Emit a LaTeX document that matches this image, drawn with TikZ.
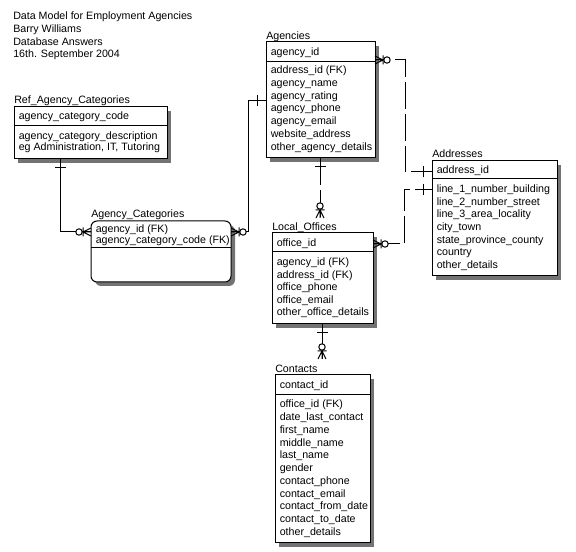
\documentclass[tikz,border=0pt]{standalone}
\usepackage{fontspec}
\setmainfont{Liberation Sans}
\usetikzlibrary{calc,shadows}
\begin{document}
\begin{tikzpicture}[x=0.75pt,y=-0.75pt,
  font=\fontsize{8}{9}\selectfont,
  ent/.style={draw=black, fill=white, line width=0.75pt, inner sep=0pt, outer sep=0pt,
    anchor=north west,
    general shadow={fill=black!55, shadow xshift=3pt, shadow yshift=-3pt}},
  lbl/.style={anchor=base west, inner sep=0pt},
  conn/.style={line width=0.75pt},
  dconn/.style={conn, dash pattern=on 20pt off 4pt},
  sym/.style={line width=0.75pt, solid},
  manyend/.pic={
    \draw[sym] (0,-4) -- (8,0) -- (0,4) (0,0) -- (8,0) (8,-4.5) -- (8,4.5);
    \draw[sym, fill=white] (12,0) circle[radius=2.4pt];
  },
  oneend/.pic={\draw[sym] (9,-5.5) -- (9,5.5);}
]
\useasboundingbox (0,0) rectangle (576,552);

% header
\node[lbl] (h1) at (13,19.5) {Data Model for Employment Agencies};
\node[lbl] (h2) at (13,32.5) {Barry Williams};
\node[lbl] (h3) at (13,45.5) {Database Answers};
\node[lbl] (h4) at (13,57.5) {16th. September 2004};

% Ref_Agency_Categories
\node[ent, minimum width=153*0.75pt, minimum height=52*0.75pt] (ref) at (14,107) {};
\node[lbl] (refT) at (14,103.5) {Ref\_Agency\_Categories};
\draw[conn] ($(ref.north west)+(0,19)$) -- ($(ref.north east)+(0,19)$);
\node[lbl] (ref0) at (18.5,119.5) {agency\_category\_code};
\node[lbl] (ref1) at (18.5,139.5) {agency\_category\_description};
\node[lbl] (ref2) at (18.5,151) {eg Administration, IT, Tutoring};

% Agency_Categories
\node[ent, rounded corners=4.5pt, minimum width=140*0.75pt, minimum height=61*0.75pt] (agcat) at (91,221) {};
\node[lbl] (agcatT) at (91,217.5) {Agency\_Categories};
\draw[conn] ($(agcat.north west)+(0,27)$) -- ($(agcat.north east)+(0,27)$);
\node[lbl] (agcat0) at (95.5,233) {agency\_id (FK)};
\node[lbl] (agcat1) at (95.5,244) {agency\_category\_code (FK)};

% Agencies
\node[ent, minimum width=109*0.75pt, minimum height=116*0.75pt] (agencies) at (266,42) {};
\node[lbl] (agenciesT) at (266,39.5) {Agencies};
\draw[conn] ($(agencies.north west)+(0,20)$) -- ($(agencies.north east)+(0,20)$);
\node[lbl] (agk) at (270.5,55.5) {agency\_id};
\foreach \t [count=\i from 0] in {address\_id (FK), agency\_name, agency\_rating, agency\_phone, agency\_email, website\_address, other\_agency\_details}
  \node[lbl] (ag\i) at (270.5,73.5+12.8*\i) {\t};

% Addresses
\node[ent, minimum width=125*0.75pt, minimum height=115*0.75pt] (addr) at (432,161) {};
\node[lbl] (addrT) at (432,157.5) {Addresses};
\draw[conn] ($(addr.north west)+(0,18)$) -- ($(addr.north east)+(0,18)$);
\node[lbl] (adk) at (436.5,173.5) {address\_id};
\foreach \t [count=\i from 0] in {line\_1\_number\_building, line\_2\_number\_street, line\_3\_area\_locality, city\_town, state\_province\_county, country, other\_details}
  \node[lbl] (ad\i) at (436.5,192.5+12.7*\i) {\t};

% Local_Offices
\node[ent, minimum width=101*0.75pt, minimum height=91*0.75pt] (lo) at (272,233) {};
\node[lbl] (loT) at (272,230.5) {Local\_Offices};
\draw[conn] ($(lo.north west)+(0,19)$) -- ($(lo.north east)+(0,19)$);
\node[lbl] (lok) at (276.5,246.5) {office\_id};
\foreach \t [count=\i from 0] in {agency\_id (FK), address\_id (FK), office\_phone, office\_email, other\_office\_details}
  \node[lbl] (lo\i) at (276.5,265.5+12.6*\i) {\t};

% Contacts
\node[ent, minimum width=95*0.75pt, minimum height=168*0.75pt] (contacts) at (275,375) {};
\node[lbl] (contactsT) at (275,373) {Contacts};
\draw[conn] ($(contacts.north west)+(0,20)$) -- ($(contacts.north east)+(0,20)$);
\node[lbl] (ctk) at (279.5,389) {contact\_id};
\foreach \t [count=\i from 0] in {office\_id (FK), date\_last\_contact, first\_name, middle\_name, last\_name, gender, contact\_phone, contact\_email, contact\_from\_date, contact\_to\_date, other\_details}
  \node[lbl] (ct\i) at (279.5,408+12.75*\i) {\t};

% Ref -> Agency_Categories
\draw[conn] ($(ref.south west)+(46,0)$) |- ($(agcat.north west)+(0,11)$);
\pic[rotate=-90] at ($(ref.south west)+(46,0)$) {oneend};
\pic[rotate=180] at ($(agcat.north west)+(0,11)$) {manyend};

% Agency_Categories -> Agencies
\draw[conn] ($(agcat.north east)+(0,11)$) -| ($(agencies.north west)+(-18,59)$) -- ($(agencies.north west)+(0,59)$);
\pic at ($(agcat.north east)+(0,11)$) {manyend};
\pic[rotate=180] at ($(agencies.north west)+(0,59)$) {oneend};

% Agencies -> Local_Offices
\draw[dconn] ($(agencies.south west)+(54,0)$) -- ($(lo.north west)+(48,-15)$);
\pic[rotate=-90] at ($(agencies.south west)+(54,0)$) {oneend};
\pic[rotate=90] at ($(lo.north west)+(48,-15)$) {manyend};

% Local_Offices -> Contacts
\draw[conn] ($(lo.south west)+(50,0)$) -- ($(contacts.north west)+(47,-16)$);
\pic[rotate=-90] at ($(lo.south west)+(50,0)$) {oneend};
\pic[rotate=90] at ($(contacts.north west)+(47,-16)$) {manyend};

% Agencies -> Addresses
\draw[dconn, dash phase=8.8pt] ($(agencies.north east)+(0,18)$) -| ($(addr.north west)+(-27,11)$) -- ($(addr.north west)+(0,11)$);
\pic at ($(agencies.north east)+(0,18)$) {manyend};
\pic[rotate=180] at ($(addr.north west)+(0,11)$) {oneend};

% Local_Offices -> Addresses
\draw[dconn] ($(lo.north east)+(0,11)$) -| ($(addr.north west)+(-28,29)$) -- ($(addr.north west)+(0,29)$);
\pic at ($(lo.north east)+(0,11)$) {manyend};
\pic[rotate=180] at ($(addr.north west)+(0,29)$) {oneend};
\end{tikzpicture}
\end{document}
